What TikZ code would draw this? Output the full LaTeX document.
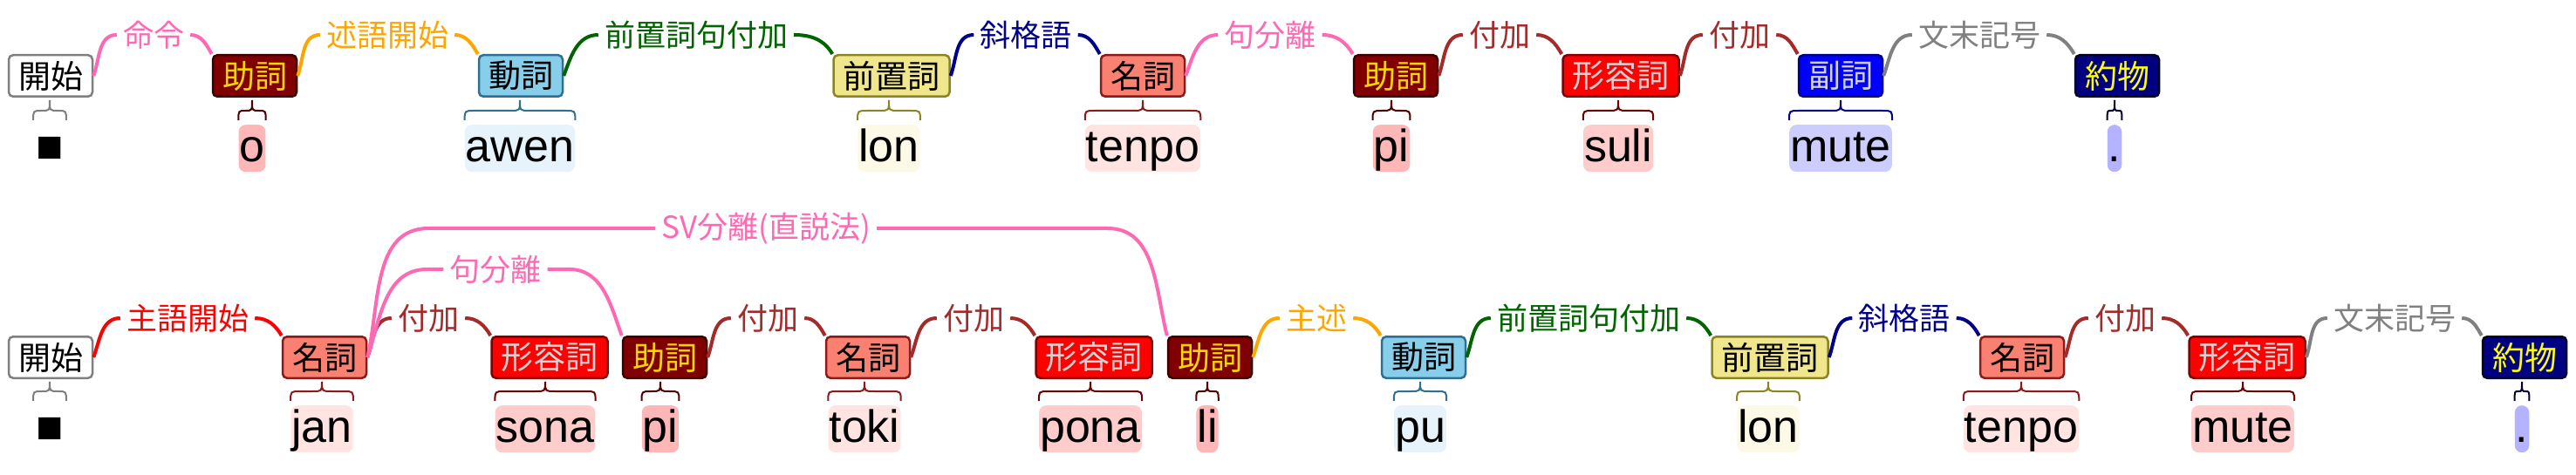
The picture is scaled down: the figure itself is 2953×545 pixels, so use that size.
\documentclass[tikz,border=0pt]{standalone}
\usepackage{fontspec}
\newfontfamily\jp{Noto Sans CJK JP}
\newfontfamily\lat{Liberation Sans}
\usetikzlibrary{calc}
\definecolor{pnk}{HTML}{FF69B4}
\definecolor{orng}{HTML}{FFA500}
\definecolor{grn}{HTML}{006400}
\definecolor{nvy}{HTML}{00008B}
\definecolor{brn}{HTML}{A52A2A}
\definecolor{gry}{HTML}{808080}
\definecolor{rd}{HTML}{FF0000}
\definecolor{startbd}{HTML}{7F7F7F}
\definecolor{ptcfill}{HTML}{800000}
\definecolor{ptcbd}{HTML}{3A0000}
\definecolor{ptctx}{HTML}{FFD700}
\definecolor{vrbfill}{HTML}{87CEEB}
\definecolor{vrbbd}{HTML}{2F6F8F}
\definecolor{prpfill}{HTML}{F0E68C}
\definecolor{prpbd}{HTML}{8B8424}
\definecolor{nnfill}{HTML}{FA8072}
\definecolor{nnbd}{HTML}{8B1A1A}
\definecolor{adjfill}{HTML}{FF0000}
\definecolor{adjbd}{HTML}{800000}
\definecolor{ltx}{HTML}{D3D3D3}
\definecolor{advfill}{HTML}{0000FF}
\definecolor{advbd}{HTML}{000080}
\definecolor{punfill}{HTML}{000080}
\definecolor{punbd}{HTML}{000022}
\definecolor{puntx}{HTML}{FFFF00}
\definecolor{hptc}{HTML}{FFB6B6}
\definecolor{hvrb}{HTML}{E6F3FA}
\definecolor{hprp}{HTML}{FCF9E6}
\definecolor{hnn}{HTML}{FFE4E1}
\definecolor{hadj}{HTML}{FFCCCC}
\definecolor{hadv}{HTML}{CCCCFF}
\definecolor{hpun}{HTML}{B3B3FF}
\definecolor{bptc}{HTML}{4D0000}
\definecolor{badj}{HTML}{6B0000}
\definecolor{bpun}{HTML}{000033}
\tikzset{
  box/.style={draw, rounded corners=5pt, line width=2.5pt, inner xsep=11pt, inner ysep=0pt,
    minimum height=47.5pt, font=\jp\fontsize{37}{40}\selectfont},
  startbox/.style={box, fill=white, draw=startbd, text=black},
  ptcbox/.style={box, fill=ptcfill, draw=ptcbd, text=ptctx},
  vrbbox/.style={box, fill=vrbfill, draw=vrbbd, text=black},
  prpbox/.style={box, fill=prpfill, draw=prpbd, text=black},
  nnbox/.style={box, fill=nnfill, draw=nnbd, text=black},
  adjbox/.style={box, fill=adjfill, draw=adjbd, text=ltx},
  advbox/.style={box, fill=advfill, draw=advbd, text=ltx},
  punbox/.style={box, fill=punfill, draw=punbd, text=puntx},
  lbl/.style={font=\jp\fontsize{35}{38}\selectfont, inner xsep=7pt, inner ysep=2pt},
  wd/.style={font=\lat\fontsize{52}{56}\selectfont, text height=42pt, text depth=12pt,
    inner xsep=1pt, inner ysep=0pt, rounded corners=8pt, anchor=north},
  conn/.style={line width=4pt},
  brc/.style={line width=2pt},
}
\newcommand\lk[4]{\draw[conn,#4] (#1.east) to[out=70,in=180] (#2.west) (#2.east) to[out=0,in=120] (#3.north west);}
\newcommand\wbr[3]{\draw[brc,#3] let \p1=(#2.north west), \p2=(#2.north east), \p3=(#1.south),
  \n1={min(11,(\x2-\x1)/4)}, \n2={(\x1+\x2)/2} in
  (\x1,{\y1+5}) .. controls (\x1,{\y1+16}) .. ({\x1+\n1},{\y1+16}) -- ({\n2-\n1},{\y1+16})
  .. controls (\n2,{\y1+16}) .. (\n2,{\y3-3})
  .. controls (\n2,{\y1+16}) .. ({\n2+\n1},{\y1+16}) -- ({\x2-\n1},{\y1+16})
  .. controls (\x2,{\y1+16}) .. (\x2,{\y1+5});}
\begin{document}
\begin{tikzpicture}[x=1pt,y=1pt]
\useasboundingbox (0,0) rectangle (2953,-545);
% ---------- row 1 ----------
\node[startbox] (a1) at (58,-87) {開始};
\node[ptcbox] (b1) at (292,-87) {助詞};
\node[vrbbox] (c1) at (597,-87) {動詞};
\node[prpbox] (d1) at (1022,-87) {前置詞};
\node[nnbox] (e1) at (1310,-87) {名詞};
\node[ptcbox] (f1) at (1600,-87) {助詞};
\node[adjbox] (g1) at (1858,-87) {形容詞};
\node[advbox] (h1) at (2110,-87) {副詞};
\node[punbox] (i1) at (2427,-87) {約物};
\node[lbl,text=pnk] (l1a) at (176,-40) {命令};
\node[lbl,text=orng] (l1b) at (444,-40) {述語開始};
\node[lbl,text=grn] (l1c) at (798,-40) {前置詞句付加};
\node[lbl,text=nvy] (l1d) at (1176,-40) {斜格語};
\node[lbl,text=pnk] (l1e) at (1456,-40) {句分離};
\node[lbl,text=brn] (l1f) at (1719,-40) {付加};
\node[lbl,text=brn] (l1g) at (1994,-40) {付加};
\node[lbl,text=gry] (l1h) at (2269,-40) {文末記号};
\node[wd,inner xsep=3pt] (w1a) at (57,-143) {■};
\node[wd,fill=hptc] (w1b) at (289,-143) {o};
\node[wd,fill=hvrb] (w1c) at (596,-143) {awen};
\node[wd,fill=hprp] (w1d) at (1019,-143) {lon};
\node[wd,fill=hnn] (w1e) at (1310,-143) {tenpo};
\node[wd,fill=hptc] (w1f) at (1595,-143) {pi};
\node[wd,fill=hadj] (w1g) at (1855,-143) {suli};
\node[wd,fill=hadv] (w1h) at (2110,-143) {mute};
\node[wd,fill=hpun] (w1i) at (2424,-143) {.};
\lk{a1}{l1a}{b1}{pnk}
\lk{b1}{l1b}{c1}{orng}
\lk{c1}{l1c}{d1}{grn}
\lk{d1}{l1d}{e1}{nvy}
\lk{e1}{l1e}{f1}{pnk}
\lk{f1}{l1f}{g1}{brn}
\lk{g1}{l1g}{h1}{brn}
\lk{h1}{l1h}{i1}{gry}
\wbr{a1}{w1a}{startbd}
\wbr{b1}{w1b}{bptc}
\wbr{c1}{w1c}{vrbbd}
\wbr{d1}{w1d}{prpbd}
\wbr{e1}{w1e}{nnbd}
\wbr{f1}{w1f}{bptc}
\wbr{g1}{w1g}{badj}
\wbr{h1}{w1h}{nvy}
\wbr{i1}{w1i}{bpun}
% ---------- row 2 ----------
\node[startbox] (a2) at (58,-410) {開始};
\node[nnbox] (b2) at (372,-410) {名詞};
\node[adjbox] (c2) at (630,-410) {形容詞};
\node[ptcbox] (d2) at (762,-410) {助詞};
\node[nnbox] (e2) at (995,-410) {名詞};
\node[adjbox] (f2) at (1254,-410) {形容詞};
\node[ptcbox] (g2) at (1387,-410) {助詞};
\node[vrbbox] (h2) at (1632,-410) {動詞};
\node[prpbox] (i2) at (2029,-410) {前置詞};
\node[nnbox] (j2) at (2318,-410) {名詞};
\node[adjbox] (k2) at (2576,-410) {形容詞};
\node[punbox] (m2) at (2894,-410) {約物};
\node[lbl,text=rd] (l2a) at (215,-365) {主語開始};
\node[lbl,text=brn] (l2b) at (491,-365) {付加};
\node[lbl,text=pnk] (l2c) at (568,-309) {句分離};
\node[lbl,text=pnk] (l2d) at (878,-262) {SV分離(直説法)};
\node[lbl,text=brn] (l2e) at (880,-365) {付加};
\node[lbl,text=brn] (l2f) at (1116,-365) {付加};
\node[lbl,text=orng] (l2g) at (1509,-365) {主述};
\node[lbl,text=grn] (l2h) at (1821,-365) {前置詞句付加};
\node[lbl,text=nvy] (l2i) at (2183,-365) {斜格語};
\node[lbl,text=brn] (l2j) at (2436,-365) {付加};
\node[lbl,text=gry] (l2k) at (2745,-365) {文末記号};
\node[wd,inner xsep=3pt] (w2a) at (57,-465) {■};
\node[wd,fill=hnn] (w2b) at (369,-465) {jan};
\node[wd,fill=hadj] (w2c) at (625,-465) {sona};
\node[wd,fill=hptc] (w2d) at (757,-465) {pi};
\node[wd,fill=hnn] (w2e) at (991,-465) {toki};
\node[wd,fill=hadj] (w2f) at (1250,-465) {pona};
\node[wd,fill=hptc] (w2g) at (1384,-465) {li};
\node[wd,fill=hvrb] (w2h) at (1628,-465) {pu};
\node[wd,fill=hprp] (w2i) at (2027,-465) {lon};
\node[wd,fill=hnn] (w2j) at (2317,-465) {tenpo};
\node[wd,fill=hadj] (w2k) at (2571,-465) {mute};
\node[wd,fill=hpun] (w2m) at (2891,-465) {.};
\lk{a2}{l2a}{b2}{rd}
\lk{b2}{l2b}{c2}{brn}
\lk{d2}{l2e}{e2}{brn}
\lk{e2}{l2f}{f2}{brn}
\lk{g2}{l2g}{h2}{orng}
\lk{h2}{l2h}{i2}{grn}
\lk{i2}{l2i}{j2}{nvy}
\lk{j2}{l2j}{k2}{brn}
\lk{k2}{l2k}{m2}{gry}
\draw[conn,pnk] (b2.east) to[out=72,in=180] ($(b2.east |- l2c.west)+(68,0)$) -- (l2c.west)
  (l2c.east) -- ++(25,0) to[out=0,in=110] (d2.north west);
\draw[conn,pnk] (b2.east) to[out=77,in=180] ($(b2.east |- l2d.west)+(70,0)$) -- (l2d.west)
  (l2d.east) -- ($(g2.north west |- l2d.east)+(-68,0)$) to[out=0,in=104] (g2.north west);
\wbr{a2}{w2a}{startbd}
\wbr{b2}{w2b}{nnbd}
\wbr{c2}{w2c}{badj}
\wbr{d2}{w2d}{bptc}
\wbr{e2}{w2e}{nnbd}
\wbr{f2}{w2f}{badj}
\wbr{g2}{w2g}{bptc}
\wbr{h2}{w2h}{vrbbd}
\wbr{i2}{w2i}{prpbd}
\wbr{j2}{w2j}{nnbd}
\wbr{k2}{w2k}{badj}
\wbr{m2}{w2m}{bpun}
\end{tikzpicture}
\end{document}
